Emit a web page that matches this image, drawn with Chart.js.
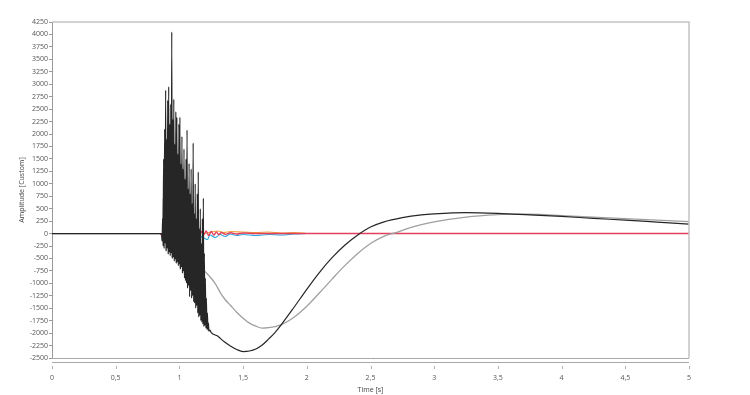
<!DOCTYPE html>
<html>
<head>
<meta charset="utf-8">
<title>Amplitude</title>
<script src="https://cdn.jsdelivr.net/npm/chart.js@4.4.0/dist/chart.umd.min.js"></script>
<style>
  html, body { margin: 0; padding: 0; background: #fff; }
  #wrap { width: 750px; height: 395px; }
</style>
</head>
<body>
<div id="wrap"><canvas id="signalChart"></canvas></div>
<script>
// Black channel: burst + slow swing
const blackTime = [0, 0.855,
  0.860, 0.864, 0.868, 0.872, 0.876, 0.880, 0.884, 0.888, 0.892, 0.896,
  0.900, 0.904, 0.908, 0.912, 0.916, 0.920, 0.924, 0.928, 0.932, 0.936,
  0.940, 0.944, 0.948, 0.952, 0.956, 0.960, 0.964, 0.968, 0.972, 0.976,
  0.980, 0.984, 0.988, 0.992, 0.996, 1.000, 1.004, 1.008, 1.012, 1.016,
  1.020, 1.024, 1.028, 1.032, 1.036, 1.040, 1.044, 1.048, 1.052, 1.056,
  1.060, 1.064, 1.068, 1.072, 1.076, 1.080, 1.084, 1.088, 1.092, 1.096,
  1.100, 1.104, 1.108, 1.112, 1.116, 1.120, 1.124, 1.128, 1.132, 1.136,
  1.140, 1.144, 1.148, 1.152, 1.156, 1.160, 1.164, 1.168, 1.172, 1.176,
  1.180, 1.184, 1.188, 1.192, 1.196, 1.200, 1.204, 1.208, 1.212, 1.216,
  1.220, 1.224, 1.228, 1.232, 1.240,
  1.25, 1.3, 1.35, 1.4, 1.45, 1.5, 1.55, 1.6, 1.65, 1.7, 1.75, 1.8, 1.9,
  2.0, 2.1, 2.2, 2.3, 2.4, 2.5, 2.6, 2.75, 2.9, 3.0, 3.25, 3.5, 3.75,
  4.0, 4.25, 4.5, 4.75, 5.0];
const blackAmp = [0, 0,
  0, -150, 300, -250, 1500, -300, 2100, -200, 2880, -350,
  1900, -300, 2680, -420, 2950, -380, 2200, -450, 2600, -400,
  4050, -500, 2300, -480, 2700, -560, 1800, -520, 2450, -600,
  2340, -580, 1600, -650, 2200, -620, 2340, -720, 1400, -680,
  1950, -800, 1300, -760, 1700, -900, 1100, -950, 1500, -1000,
  2080, -1100, 900, -1050, 1410, -1270, 800, -1150, 1300, -1300,
  600, -1250, 1820, -1370, 400, -1400, 1000, -1500, 300, -1450,
  800, -1600, 1240, -1680, 100, -1650, 500, -1750, -200, -1780,
  300, -1820, 710, -1870, -400, -1850, -900, -1900, -1300, -1920,
  -1600, -1940, -1800, -1960, -1940,
  -1990, -2060, -2170, -2260, -2330, -2370, -2360, -2320, -2240, -2120, -1990, -1830, -1480,
  -1120, -780, -480, -230, -30, 130, 230, 320, 375, 395, 420, 405, 375,
  345, 305, 270, 230, 190];

// Gray channel
const grayTime = [0, 0.86, 0.868, 0.872, 0.878, 0.886, 0.895, 0.905, 0.915, 0.93,
  0.945, 0.96, 0.975, 0.99, 1.005, 1.02, 1.04, 1.06, 1.08, 1.1, 1.12, 1.14,
  1.16, 1.18, 1.2, 1.24, 1.28, 1.32, 1.36, 1.4, 1.45, 1.5, 1.55, 1.6, 1.65,
  1.7, 1.75, 1.8, 1.9, 2.0, 2.1, 2.2, 2.3, 2.4, 2.5, 2.6, 2.7, 2.8, 2.9,
  3.0, 3.25, 3.5, 3.6, 3.75, 4.0, 4.25, 4.5, 4.75, 5.0];
const grayAmp = [0, 0, -150, 700, -250, 400, -350, 600, -400, 300,
  -500, 200, -600, 0, -700, -200, -850, -350, -1000, -500, -1050, -650,
  -950, -700, -760, -870, -1000, -1180, -1330, -1440, -1580, -1700, -1800, -1860, -1900,
  -1890, -1870, -1830, -1680, -1460, -1190, -910, -640, -400, -200, -60, 20, 110, 180,
  235, 330, 380, 390, 388, 362, 332, 300, 270, 240];

// Small channels around zero
const redTime = [0.85, 0.87, 0.89, 0.91, 0.93, 0.95, 0.97, 0.99, 1.01, 1.03,
  1.05, 1.07, 1.09, 1.11, 1.13, 1.15, 1.17, 1.19, 1.21, 1.23, 1.25, 1.27,
  1.29, 1.31, 1.33, 1.36, 1.4, 1.45, 1.5, 1.6, 5.0];
const redAmp = [0, -60, -40, -80, -50, -70, -30, -60, -20, -50,
  10, -40, 20, -30, 30, -20, 40, -30, 50, -40, 40, -30,
  30, -20, 20, -15, 15, -10, 10, 0, 0];

const cyanTime = [0.86, 0.88, 0.92, 0.96, 1.0, 1.05, 1.1, 1.15, 1.2, 1.22, 1.24,
  1.28, 1.32, 1.36, 1.4, 1.45, 1.5, 1.6, 1.7, 1.8, 1.9, 2.0];
const cyanAmp = [0, -70, -100, -80, -110, -60, -90, -40, -100, -120, -30,
  -80, -20, -60, -10, -40, -20, -40, -20, -30, -10, 0];

const orangeTime = [1.2, 1.25, 1.3, 1.35, 1.4, 1.5, 1.6, 1.7, 1.8, 1.9, 2.0];
const orangeAmp = [0, 30, 50, 20, 40, 30, 20, 30, 10, 20, 0];

const xTicks = [0, 0.5, 1, 1.5, 2, 2.5, 3, 3.5, 4, 4.5, 5];

function toPoints(times, amps) {
  return times.map((t, i) => ({ x: t, y: amps[i] }));
}

function makeSet(times, amps, color, width) {
  return {
    data: toPoints(times, amps),
    borderColor: color,
    borderWidth: width,
    pointRadius: 0,
    fill: false,
    cubicInterpolationMode: 'monotone',
  };
}

// Plot frame and the separate time strip under it
const framePlugin = {
  id: 'frame',
  afterDraw(chart) {
    const { ctx, chartArea: a, scales } = chart;
    ctx.save();
    ctx.strokeStyle = '#c4c4c4';
    ctx.lineWidth = 1.5;
    ctx.beginPath();
    ctx.moveTo(a.left, a.top);
    ctx.lineTo(a.right, a.top);
    ctx.lineTo(a.right, a.bottom);
    ctx.stroke();
    ctx.strokeStyle = '#a8a8a8';
    ctx.lineWidth = 1;
    ctx.beginPath();
    ctx.moveTo(a.left, a.bottom + 0.5);
    ctx.lineTo(a.right, a.bottom + 0.5);
    ctx.moveTo(a.left, a.bottom + 4.5);
    ctx.lineTo(a.right, a.bottom + 4.5);
    ctx.stroke();
    ctx.strokeStyle = '#b0b0b0';
    ctx.beginPath();
    xTicks.forEach((v) => {
      const px = Math.round(scales.x.getPixelForValue(v)) + 0.5;
      ctx.moveTo(px, a.bottom + 8);
      ctx.lineTo(px, a.bottom + 11);
    });
    ctx.stroke();
    ctx.restore();
  },
};

const ctx = document.getElementById('signalChart').getContext('2d');
new Chart(ctx, {
  type: 'line',
  data: {
    datasets: [
      makeSet(blackTime, blackAmp, '#262626', 1.2),
      makeSet(grayTime, grayAmp, '#a0a0a0', 1.3),
      makeSet(redTime, redAmp, '#e3405e', 1.4),
      makeSet(cyanTime, cyanAmp, '#2aa6dc', 1.1),
      makeSet(orangeTime, orangeAmp, '#f2a23a', 1.1),
    ],
  },
  options: {
    responsive: true,
    maintainAspectRatio: false,
    animation: false,
    layout: { padding: { left: 0, right: 61, top: 22, bottom: 0 } },
    plugins: {
      legend: { display: false },
      tooltip: { enabled: false },
    },
    scales: {
      x: {
        type: 'linear',
        min: 0,
        max: 5,
        afterFit: (s) => { s.height = 37; },
        afterBuildTicks: (s) => { s.ticks = xTicks.map((v) => ({ value: v })); },
        ticks: {
          callback: (v) => String(v).replace('.', ','),
          font: { family: 'Open Sans', size: 7 },
          color: '#555',
          padding: 8,
          maxRotation: 0,
          autoSkip: false,
        },
        grid: { display: false },
        border: { display: false },
        title: {
          display: true,
          text: 'Time [s]',
          font: { family: 'Open Sans', size: 7 },
          color: '#444',
          padding: { top: 0, bottom: 1 },
        },
      },
      y: {
        min: -2500,
        max: 4250,
        afterFit: (s) => { s.width = 52; },
        ticks: {
          stepSize: 250,
          callback: (v) => String(v),
          font: { family: 'Open Sans', size: 7 },
          color: '#555',
          padding: 1,
          autoSkip: false,
        },
        grid: { drawOnChartArea: false, tickLength: 3, color: '#999' },
        border: { display: true, color: '#9a9a9a' },
        title: {
          display: true,
          text: 'Amplitude [Custom]',
          font: { family: 'Open Sans', size: 7 },
          color: '#444',
          padding: { top: 18, bottom: 0 },
        },
      },
    },
  },
  plugins: [framePlugin],
});
</script>
</body>
</html>
